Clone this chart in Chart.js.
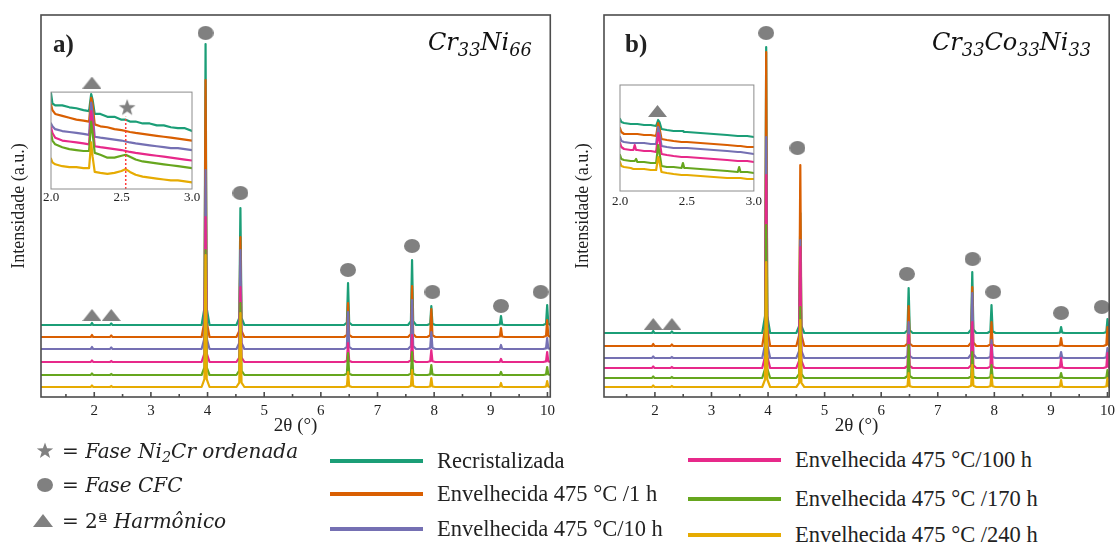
<!DOCTYPE html>
<html>
<head>
<meta charset="utf-8">
<script src="https://cdn.jsdelivr.net/npm/chart.js@4.4.1/dist/chart.umd.min.js"></script>
<style>
  html, body { margin: 0; padding: 0; background: #fff; }
  #wrap { position: relative; width: 1120px; height: 542px; overflow: hidden; font-family: "Liberation Serif", serif; color: #222; }
  canvas { position: absolute; }
  .tag { position: absolute; font-family: "Liberation Serif", serif; font-weight: bold; font-size: 25px; line-height: 1; }
  .formula { position: absolute; font-family: "DejaVu Serif", serif; font-style: italic; font-size: 24px; line-height: 1; white-space: nowrap; color: #111; }
  .formula sub { font-size: 0.74em; vertical-align: -0.32em; line-height: 0; }
  .symtxt { position: absolute; font-family: "DejaVu Serif", serif; font-size: 20px; line-height: 22px; white-space: nowrap; color: #222; }
  .symtxt i sub { font-size: 0.72em; vertical-align: -0.3em; line-height: 0; }
  .sym { position: absolute; }
  .lg { position: absolute; height: 26px; white-space: nowrap; }
  .lg .ln { position: absolute; left: 0; top: 11px; width: 93px; height: 4px; }
  .lg .tx { position: absolute; left: 107px; top: 0; font-size: 22.5px; line-height: 26px; color: #222; }
</style>
</head>
<body>
<div id="wrap">
  <canvas id="chartA" width="560" height="442" style="left:0;top:0"></canvas>
  <canvas id="chartB" width="560" height="442" style="left:560px;top:0"></canvas>
  <canvas id="insetA" width="170" height="140" style="left:36px;top:66px"></canvas>
  <canvas id="insetB" width="160" height="145" style="left:605px;top:64px"></canvas>

  <div class="tag" style="left:53px;top:31px">a)</div>
  <div class="tag" style="left:625px;top:31px">b)</div>
  <div class="formula" style="left:428px;top:30px">Cr<sub>33</sub>Ni<sub>66</sub></div>
  <div class="formula" style="left:932px;top:30px">Cr<sub>33</sub>Co<sub>33</sub>Ni<sub>33</sub></div>

  <!-- phase symbols -->
  <svg class="sym" style="left:36px;top:442px" width="18" height="18" viewBox="0 0 18 18">
    <polygon fill="#808080" points="9,0.5 11.1,6.3 17.2,6.4 12.3,10.1 14.1,16.1 9,12.5 3.9,16.1 5.7,10.1 0.8,6.4 6.9,6.3"/>
  </svg>
  <div class="symtxt" style="left:62px;top:440px">= <i>Fase Ni<sub>2</sub>Cr ordenada</i></div>
  <svg class="sym" style="left:37px;top:478px" width="16" height="14" viewBox="0 0 16 14">
    <ellipse cx="8" cy="7" rx="8" ry="7" fill="#808080"/>
  </svg>
  <div class="symtxt" style="left:62px;top:474px">= <i>Fase CFC</i></div>
  <svg class="sym" style="left:33px;top:514px" width="20" height="13" viewBox="0 0 20 13">
    <polygon fill="#808080" points="10,0 20,13 0,13"/>
  </svg>
  <div class="symtxt" style="left:62px;top:510px">= 2ª <i>Harmônico</i></div>

  <div id="legend"></div>
</div>

<script>
// ---- shared ----
const seriesNames = [
  'Recristalizada',
  'Envelhecida 475 °C /1 h',
  'Envelhecida 475 °C/10 h',
  'Envelhecida 475 °C/100 h',
  'Envelhecida 475 °C /170 h',
  'Envelhecida 475 °C /240 h'
];
const seriesColors = ['#1b9e77', '#d95f02', '#7570b3', '#e7298a', '#66a61e', '#e6ab02'];
const xMajorTicks = [2, 3, 4, 5, 6, 7, 8, 9, 10];
const xMinorTicks = [1.5, 2.5, 3.5, 4.5, 5.5, 6.5, 7.5, 8.5, 9.5];
const insetTicks = [2.0, 2.5, 3.0];

// ---- panel a: Cr33Ni66 ----
const peaksA = [1.96, 2.30, 3.965, 4.58, 6.48, 7.61, 7.95, 9.18, 9.995];
const offsetsA = [72, 60, 48, 35, 22, 10];
const heightsA = [
  [2, 1.5, 281, 117, 42, 65, 19, 9, 20],
  [2, 1.5, 257, 100, 34, 51, 28, 9, 17],
  [2, 1.5, 179, 99, 37, 49, 17, 4, 11],
  [1.5, 1, 145, 75, 19, 27, 12, 3, 10],
  [1.5, 1, 125, 72, 22, 23, 10, 3, 8],
  [1.5, 1, 132, 74, 15, 17, 9, 4, 6]
];
const cfcAx = [3.965, 4.58, 6.48, 7.61, 7.97, 9.18, 9.88];
const cfcAy = [364, 204, 127, 151, 105, 91, 105];
const harmAx = [1.96, 2.30];
const harmAy = [82, 82];

// ---- panel b: Cr33Co33Ni33 ----
const peaksB = [1.97, 2.30, 3.967, 4.57, 6.485, 7.61, 7.95, 9.18, 10.0];
const offsetsB = [64, 51, 39, 29, 19, 10];
const heightsB = [
  [2, 1.5, 286, 120, 45, 61, 28, 6, 14],
  [2, 1.5, 294, 181, 40, 59, 24, 8, 19],
  [1.5, 1, 221, 118, 36, 65, 18, 6, 10],
  [1.5, 1, 193, 121, 33, 46, 23, 10, 15],
  [1.5, 1, 153, 71, 33, 26, 13, 5, 8],
  [1.5, 1, 125, 67, 14, 22, 12, 7, 9]
];
const cfcBx = [3.967, 4.52, 6.455, 7.615, 7.98, 9.18, 9.90];
const cfcBy = [364, 249, 123, 138, 105, 84, 90];
const harmBx = [1.97, 2.30];
const harmBy = [73, 73];

// ---- inset a (2.0–3.0) ----
const insetAx = [2.0, 2.01, 2.03, 2.08, 2.13, 2.18, 2.23, 2.27, 2.285, 2.295, 2.31, 2.35, 2.4, 2.45, 2.5, 2.53, 2.56, 2.6, 2.65, 2.7, 2.75, 2.8, 2.85, 2.9, 2.95, 3.0];
const insetA = [
  [101, 90, 88, 88, 86, 85, 83, 82, 100, 94, 79, 79, 76, 76, 73, 73, 71, 71, 69, 69, 67, 67, 65, 64, 64, 61],
  [89, 83, 79, 77, 75, 73, 72, 71, 96, 89, 68, 66, 65, 63, 62, 61, 60, 59, 58, 57, 56, 55, 54, 53, 52, 51],
  [69, 66, 63, 61, 60, 59, 58, 57, 91, 79, 55, 54, 53, 52, 51, 50, 49, 48, 47, 46, 45, 44, 43, 43, 42, 41],
  [65, 59, 54, 51, 50, 49, 48, 47, 82, 71, 45, 44, 43, 42, 41, 40, 39, 38, 37, 36, 35, 34, 33, 32, 31, 30],
  [59, 51, 47, 44, 42, 41, 40, 40, 71, 59, 38, 36, 33, 33, 35, 36, 34, 31, 29, 28, 27, 26, 25, 24, 23, 22],
  [32, 28, 26, 24, 23, 23, 22, 22, 49, 34, 18, 17, 16, 17, 19, 21, 18, 15, 13, 12, 11, 10, 9, 9, 8, 7]
];
const insetAHarm = { x: 2.29, y: 112 };
const insetAStar = { x: 2.54, y: 86 };
const insetAGuide = { x: 2.53, top: 76 };

// ---- inset b (2.0–3.0) ----
const insetBx = [2.0, 2.01, 2.03, 2.08, 2.1, 2.11, 2.12, 2.13, 2.18, 2.23, 2.27, 2.285, 2.295, 2.31, 2.35, 2.4, 2.46, 2.47, 2.48, 2.5, 2.6, 2.7, 2.8, 2.88, 2.89, 2.9, 2.95, 3.0];
const insetB = [
  [72, 69, 68, 67, 67, 67, 67, 67, 66, 66, 65, 71, 69, 62, 61, 60, 60, 60, 59, 59, 58, 57, 56, 55, 55, 55, 55, 54],
  [63, 59, 57, 57, 57, 57, 57, 57, 56, 56, 55, 68, 63, 52, 51, 50, 49, 49, 49, 49, 48, 47, 46, 45, 45, 45, 44, 44],
  [54, 50, 49, 48, 48, 48, 48, 48, 48, 47, 47, 64, 58, 45, 44, 43, 43, 43, 43, 43, 42, 41, 40, 39, 39, 39, 38, 37],
  [48, 44, 42, 41, 41, 46, 41, 41, 40, 40, 39, 58, 51, 37, 36, 35, 34, 34, 34, 34, 33, 32, 31, 30, 30, 30, 30, 29],
  [36, 32, 31, 30, 30, 30, 32, 29, 29, 28, 28, 46, 38, 25, 24, 24, 23, 28, 23, 23, 22, 21, 20, 19, 24, 19, 19, 18],
  [29, 25, 24, 23, 22, 22, 22, 22, 22, 21, 21, 34, 29, 19, 18, 17, 16, 16, 16, 16, 15, 14, 13, 13, 13, 13, 12, 12]
];
const insetBHarm = { x: 2.28, y: 80 };

// ---- marker glyphs ----
const GREY = '#808080';
function glyph(w, h, draw) {
  const c = document.createElement('canvas');
  c.width = w; c.height = h;
  const g = c.getContext('2d');
  g.fillStyle = GREY;
  draw(g, w, h);
  return c;
}
const circleGlyph = glyph(16, 14, (g, w, h) => { g.beginPath(); g.ellipse(w / 2, h / 2, w / 2, h / 2, 0, 0, Math.PI * 2); g.fill(); });
const triGlyph = glyph(19, 12, (g, w, h) => { g.beginPath(); g.moveTo(w / 2, 0); g.lineTo(w, h); g.lineTo(0, h); g.closePath(); g.fill(); });
const starGlyph = glyph(18, 18, (g) => {
  g.beginPath();
  for (let k = 0; k < 10; k++) {
    const r = k % 2 === 0 ? 8.8 : 3.6;
    const a = -Math.PI / 2 + k * Math.PI / 5;
    const px = 9 + r * Math.cos(a), py = 9.6 + r * Math.sin(a);
    k === 0 ? g.moveTo(px, py) : g.lineTo(px, py);
  }
  g.closePath(); g.fill();
});

// ---- plugins ----
// Frame around the plot box (optionally stopping at a y value below the
// top of the chart area) plus inward x tick marks.
const framePlugin = {
  id: 'frame',
  beforeDatasetsDraw(chart, args, opts) {
    if (!opts.fill) return;
    const { ctx, chartArea: a, scales: { y } } = chart;
    const top = opts.yTop != null ? y.getPixelForValue(opts.yTop) : a.top;
    ctx.save(); ctx.fillStyle = '#fff';
    ctx.fillRect(a.left, top, a.right - a.left, a.bottom - top);
    ctx.restore();
  },
  afterDraw(chart, args, opts) {
    const { ctx, chartArea: a, scales: { x, y } } = chart;
    const top = opts.yTop != null ? y.getPixelForValue(opts.yTop) : a.top;
    ctx.save();
    ctx.strokeStyle = opts.color; ctx.lineWidth = opts.width;
    ctx.strokeRect(a.left, top, a.right - a.left, a.bottom - top);
    const tick = (v, len) => {
      const px = x.getPixelForValue(v);
      ctx.beginPath(); ctx.moveTo(px, a.bottom); ctx.lineTo(px, a.bottom - len); ctx.stroke();
    };
    (opts.major || []).forEach(v => tick(v, 5));
    (opts.minor || []).forEach(v => tick(v, 3));
    ctx.restore();
  }
};
Chart.register(framePlugin);
Chart.defaults.font.family = '"Liberation Serif", serif';
Chart.defaults.color = '#222';

// ---- builders ----
function peakProfile(pos, base, hts, lo, hi) {
  const pts = [{ x: lo, y: base }];
  pos.forEach((p, i) => {
    const h = hts[i];
    pts.push(
      { x: p - 0.07, y: base },
      { x: p - 0.02, y: base + h * 0.06 },
      { x: p, y: base + h },
      { x: p + 0.02, y: base + h * 0.06 },
      { x: p + 0.07, y: base }
    );
  });
  pts.push({ x: hi, y: base });
  return pts;
}
const zip = (xs, ys) => xs.map((v, i) => ({ x: v, y: ys[i] }));

function lineSet(label, color, data, order) {
  return {
    label, data, order,
    showLine: true, borderColor: color, borderWidth: 2.2,
    borderJoinStyle: 'round', borderCapStyle: 'round',
    pointRadius: 0, tension: 0
  };
}
function markerSet(data, style) {
  return { data, showLine: false, pointStyle: style, pointRadius: 8, order: -1, clip: false };
}

function mainChart(id, peaks, offsets, heights, cfcX, cfcY, harmX, harmY, xmin, xmax, axisW, titlePad) {
  const datasets = seriesNames.map((name, i) =>
    lineSet(name, seriesColors[i], peakProfile(peaks, offsets[i], heights[i], xmin, xmax), 10 - i));
  datasets.push(markerSet(zip(cfcX, cfcY), circleGlyph));
  datasets.push(markerSet(zip(harmX, harmY), triGlyph));
  return new Chart(document.getElementById(id), {
    type: 'scatter',
    data: { datasets },
    options: {
      responsive: false, animation: false, events: [],
      layout: { padding: { left: 0, top: 15, right: 7, bottom: 0 } },
      plugins: {
        legend: { display: false }, tooltip: { enabled: false },
        frame: { color: '#4d4d4d', width: 1.6, major: xMajorTicks, minor: xMinorTicks }
      },
      scales: {
        x: {
          type: 'linear', min: xmin, max: xmax,
          afterBuildTicks: s => { s.ticks = xMajorTicks.map(v => ({ value: v })); },
          afterFit: s => { s.height = 45; },
          grid: { display: false, drawTicks: false }, border: { display: false },
          ticks: { font: { size: 15 }, color: '#222', padding: 5, maxRotation: 0, autoSkip: false },
          title: { display: true, text: '2θ (°)', font: { size: 19 }, color: '#222', padding: { top: 0, bottom: 5 } }
        },
        y: {
          min: 0, max: 382,
          afterFit: s => { s.width = axisW; },
          grid: { display: false, drawTicks: false }, border: { display: false },
          ticks: { display: false },
          title: { display: true, text: 'Intensidade (a.u.)', font: { size: 18 }, color: '#222', padding: { top: titlePad, bottom: 0 } }
        }
      }
    }
  });
}

function insetChart(id, xs, rows, extra, ymax, frameTop, pad, axisH, tickPad) {
  const datasets = seriesNames.map((name, i) => lineSet(name, seriesColors[i], zip(xs, rows[i]), 10 - i));
  extra.forEach(d => datasets.push(d));
  return new Chart(document.getElementById(id), {
    type: 'scatter',
    data: { datasets },
    options: {
      responsive: false, animation: false, events: [],
      layout: { padding: pad },
      plugins: {
        legend: { display: false }, tooltip: { enabled: false },
        frame: { color: '#8c8c8c', width: 1, fill: true, yTop: frameTop }
      },
      scales: {
        x: {
          type: 'linear', min: 2, max: 3,
          afterBuildTicks: s => { s.ticks = insetTicks.map(v => ({ value: v })); },
          afterFit: s => { s.height = axisH; },
          grid: { display: false, drawTicks: false }, border: { display: false },
          ticks: { font: { size: 13 }, color: '#222', padding: tickPad, maxRotation: 0, autoSkip: false, callback: v => v.toFixed(1) }
        },
        y: { display: false, min: 0, max: ymax }
      }
    }
  });
}

mainChart('chartA', peaksA, offsetsA, heightsA, cfcAx, cfcAy, harmAx, harmAy, 1.06, 10.05, 41, 8);
mainChart('chartB', peaksB, offsetsB, heightsB, cfcBx, cfcBy, harmBx, harmBy, 1.10, 10.03, 44, 12);

// inset a: the plot area reaches above the frame so the harmonic marker sits over it
insetChart('insetA', insetAx, insetA, [
  markerSet([insetAHarm], triGlyph),
  markerSet([insetAStar], starGlyph),
  { data: [{ x: insetAGuide.x, y: 0 }, { x: insetAGuide.x, y: insetAGuide.top }], showLine: true,
    borderColor: '#ff3b3b', borderWidth: 1.5, borderDash: [2, 2], pointRadius: 0, order: -2 }
], 120, 102, { left: 15, top: 3, right: 14, bottom: 0 }, 17, 1);

insetChart('insetB', insetBx, insetB, [
  markerSet([insetBHarm], triGlyph)
], 106, null, { left: 15, top: 21, right: 11, bottom: 0 }, 18, 3);

// ---- series legend ----
const legendSpots = [
  { left: 330, top: 448 }, { left: 330, top: 481 }, { left: 330, top: 516 },
  { left: 688, top: 447 }, { left: 688, top: 486 }, { left: 688, top: 522 }
];
const legend = document.getElementById('legend');
seriesNames.forEach((name, i) => {
  const el = document.createElement('div');
  el.className = 'lg';
  el.style.left = legendSpots[i].left + 'px';
  el.style.top = legendSpots[i].top + 'px';
  el.innerHTML = '<div class="ln" style="background:' + seriesColors[i] + '"></div><div class="tx"></div>';
  el.querySelector('.tx').textContent = name;
  legend.appendChild(el);
});
</script>
</body>
</html>
